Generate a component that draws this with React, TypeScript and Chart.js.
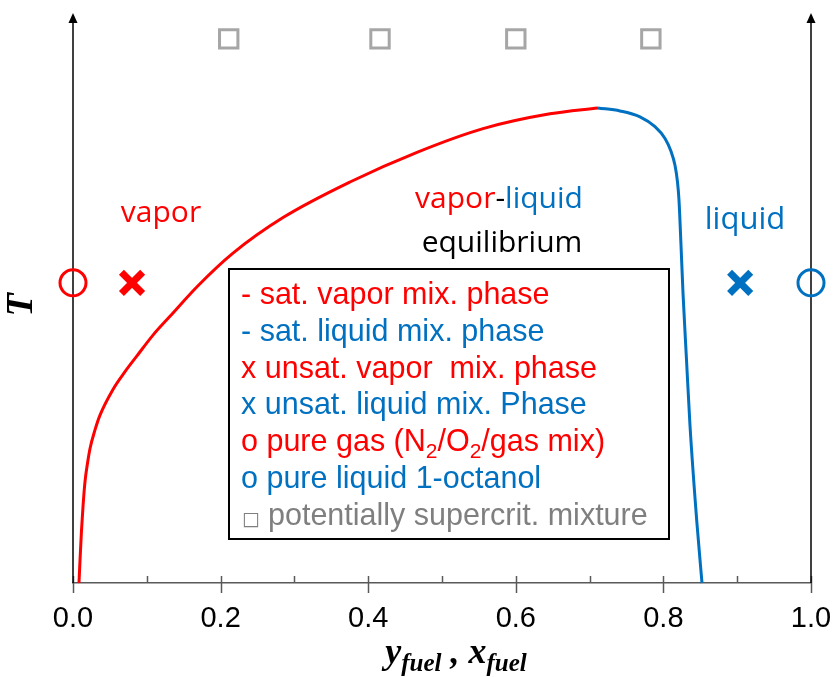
import { useEffect, useRef } from "react";
import { Chart, registerables } from "chart.js";

Chart.register(...registerables);

// ---- colours ----
const RED = "#ff0000";
const BLUE = "#0070c0";
const GRAY = "#a6a6a6";
const TEXT_GRAY = "#7f7f7f";

// ---- saturated vapour branch (y_fuel vs T, normalised) ----
const vaporX = [0.0081, 0.0095, 0.0115, 0.0136, 0.0163, 0.0196, 0.023, 0.0298, 0.0366, 0.0542, 0.0705, 0.0867, 0.1084, 0.1314, 0.1694, 0.2168, 0.2846, 0.3753, 0.4661, 0.5556, 0.6463, 0.7114];
const vaporT = [0, 0.0405, 0.0933, 0.1373, 0.1813, 0.213, 0.2394, 0.2729, 0.2993, 0.3451, 0.3768, 0.4049, 0.4419, 0.4754, 0.5299, 0.588, 0.6514, 0.7148, 0.7676, 0.8099, 0.8363, 0.8468];

// ---- saturated liquid branch (x_fuel vs T, normalised) ----
const liquidX = [0.7114, 0.7412, 0.7683, 0.7886, 0.8022, 0.8103, 0.8157, 0.8191, 0.8211, 0.8238, 0.8266, 0.8313, 0.836, 0.8455, 0.8523];
const liquidT = [0.8468, 0.8415, 0.831, 0.8134, 0.7923, 0.7694, 0.7447, 0.7148, 0.6831, 0.6039, 0.5158, 0.3979, 0.2817, 0.1056, 0];

// ---- single state points ----
const pureGas = { x: 0, y: 0.535 };
const unsatVapor = { x: 0.08, y: 0.535 };
const unsatLiquid = { x: 0.904, y: 0.535 };
const pureLiquid = { x: 1, y: 0.535 };

// ---- potentially supercritical mixtures ----
const superX = [0.211, 0.416, 0.6, 0.783];
const superT = [0.97, 0.97, 0.97, 0.97];

// ---- x axis ticks ----
const tickStep = 0.1;

// ---- legend box lines ("_" marks a one-character subscript) ----
const legendTexts = [
  "- sat. vapor mix. phase",
  "- sat. liquid mix. phase",
  "x unsat. vapor  mix. phase",
  "x unsat. liquid mix. Phase",
  "o pure gas (N_2/O_2/gas mix)",
  "o pure liquid 1-octanol",
  "□ potentially supercrit. mixture",
];
const legendColors = [RED, BLUE, RED, BLUE, RED, BLUE, TEXT_GRAY];

const SANS = '"Liberation Sans", Arial, sans-serif';
const LABEL_SANS = '"Open Sans", "Noto Sans", sans-serif';
const SERIF = '"Liberation Serif", "Times New Roman", serif';

// target plot frame on the page
const FRAME = { left: 73, top: 15, right: 811, bottom: 583 };

const pairs = (xs: number[], ys: number[]) => xs.map((x, i) => ({ x, y: ys[i] }));

function drawRich(ctx: CanvasRenderingContext2D, text: string, x: number, y: number, size: number) {
  const parts = text.split(/_(.)/);
  let cx = x;
  parts.forEach((p, i) => {
    const sub = i % 2 === 1;
    ctx.font = `${sub ? Math.round(size * 0.68) : size}px ${SANS}`;
    ctx.fillText(p, cx, sub ? y + size * 0.22 : y);
    cx += ctx.measureText(p).width;
  });
}

const decorations = {
  id: "phaseDecorations",
  beforeDatasetsDraw(chart: any) {
    const ctx: CanvasRenderingContext2D = chart.ctx;
    const xs = chart.scales.x;
    const { top, bottom } = chart.chartArea;
    ctx.save();
    // tick marks: major cross the axis, minor sit above it
    ctx.strokeStyle = "#595959";
    ctx.lineWidth = 1.5;
    xs.ticks.forEach((t: any) => {
      const v = t.value;
      const px = Math.round(xs.getPixelForValue(v)) + 0.5;
      const major = Math.round(v / tickStep) % 2 === 0;
      ctx.beginPath();
      ctx.moveTo(px, bottom - 7);
      ctx.lineTo(px, major ? bottom + 10 : bottom);
      ctx.stroke();
    });
    // vertical axes at both ends with arrow heads
    ctx.strokeStyle = "#000";
    ctx.fillStyle = "#000";
    ctx.lineWidth = 1.5;
    [0, 1].forEach((v) => {
      const px = xs.getPixelForValue(v);
      ctx.beginPath();
      ctx.moveTo(px, bottom);
      ctx.lineTo(px, top);
      ctx.stroke();
      ctx.beginPath();
      ctx.moveTo(px, top - 9);
      ctx.lineTo(px - 4.5, top + 1);
      ctx.lineTo(px + 4.5, top + 1);
      ctx.closePath();
      ctx.fill();
    });
    ctx.restore();
  },
  afterDraw(chart: any) {
    const ctx: CanvasRenderingContext2D = chart.ctx;
    ctx.save();

    // y axis title
    ctx.save();
    ctx.translate(22, 305);
    ctx.rotate(-Math.PI / 2);
    ctx.font = `bold italic 38px ${SERIF}`;
    ctx.fillStyle = "#000";
    ctx.textAlign = "center";
    ctx.textBaseline = "middle";
    ctx.fillText("T", 0, 0);
    ctx.restore();

    // x axis title: y_fuel , x_fuel
    const titleParts: [string, boolean][] = [["y", false], ["fuel", true], [" , ", false], ["x", false], ["fuel", true]];
    const mainF = `bold italic 36px ${SERIF}`;
    const subF = `bold italic 25px ${SERIF}`;
    let total = 0;
    titleParts.forEach(([t, s]) => {
      ctx.font = s ? subF : mainF;
      total += ctx.measureText(t).width;
    });
    let tx = 456 - total / 2;
    ctx.fillStyle = "#000";
    ctx.textBaseline = "alphabetic";
    ctx.textAlign = "left";
    titleParts.forEach(([t, s]) => {
      ctx.font = s ? subF : mainF;
      ctx.fillText(t, tx, s ? 671 : 663);
      tx += ctx.measureText(t).width;
    });

    // region labels
    ctx.font = `30px ${LABEL_SANS}`;
    ctx.textAlign = "center";
    ctx.fillStyle = RED;
    ctx.fillText("vapor", 161, 222);
    ctx.fillStyle = BLUE;
    ctx.font = `31px ${LABEL_SANS}`;
    ctx.fillText("liquid", 745, 229);
    ctx.font = `30px ${LABEL_SANS}`;
    ctx.fillStyle = "#000";
    ctx.fillText("equilibrium", 502, 252);
    const segs: [string, string][] = [["vapor", RED], ["-", "#000"], ["liquid", BLUE]];
    const segW = segs.reduce((s, [t]) => s + ctx.measureText(t).width, 0);
    let sx = 499 - segW / 2;
    ctx.textAlign = "left";
    segs.forEach(([t, c]) => {
      ctx.fillStyle = c;
      ctx.fillText(t, sx, 208);
      sx += ctx.measureText(t).width;
    });

    // legend box
    ctx.lineWidth = 2;
    ctx.strokeStyle = "#000";
    ctx.strokeRect(229, 269, 440, 270);
    legendTexts.forEach((line, i) => {
      const y = 304 + i * 36.8;
      ctx.fillStyle = legendColors[i];
      if (line.startsWith("□")) {
        ctx.font = `19px "DejaVu Sans", sans-serif`;
        ctx.fillText("□", 242, y);
        drawRich(ctx, line.slice(2), 268, y, 30.5);
      } else {
        drawRich(ctx, line, 241, y, 30.5);
      }
    });

    ctx.restore();
  },
};

export default function App() {
  const ref = useRef<HTMLCanvasElement>(null);

  useEffect(() => {
    if (!ref.current) return;
    const pointSet = (pt: { x: number; y: number }, color: string, style: string, r: number, bw: number) => ({
      type: "scatter" as const,
      data: [pt],
      pointStyle: style,
      pointRadius: r,
      pointBorderWidth: bw,
      pointBorderColor: color,
      pointBackgroundColor: "rgba(0,0,0,0)",
      borderColor: color,
      backgroundColor: "rgba(0,0,0,0)",
      showLine: false,
      clip: false as any,
    });
    const curve = (label: string, xs: number[], ys: number[], color: string) => ({
      type: "line" as const,
      label,
      data: pairs(xs, ys),
      borderColor: color,
      borderWidth: 3,
      pointRadius: 0,
      cubicInterpolationMode: "monotone" as const,
      fill: false,
      clip: false as any,
    });

    const pad = { left: FRAME.left, right: 833 - FRAME.right, top: FRAME.top, bottom: 0 };

    const chart = new Chart(ref.current, {
      type: "scatter",
      data: {
        datasets: [
          curve("sat. vapor", vaporX, vaporT, RED),
          curve("sat. liquid", liquidX, liquidT, BLUE),
          pointSet(pureGas, RED, "circle", 13, 3),
          pointSet(unsatVapor, RED, "crossRot", 15, 7),
          pointSet(unsatLiquid, BLUE, "crossRot", 15, 7),
          pointSet(pureLiquid, BLUE, "circle", 13, 3),
          {
            type: "scatter",
            label: "supercritical",
            data: pairs(superX, superT),
            pointStyle: "rect",
            pointRadius: 13,
            pointBorderWidth: 3,
            pointBorderColor: GRAY,
            pointBackgroundColor: "rgba(0,0,0,0)",
            showLine: false,
            clip: false as any,
          },
        ] as any,
      },
      options: {
        animation: false,
        responsive: false,
        devicePixelRatio: 1,
        layout: { padding: { ...pad } },
        plugins: { legend: { display: false }, tooltip: { enabled: false } },
        scales: {
          x: {
            type: "linear",
            min: 0,
            max: 1,
            position: "bottom",
            grid: { display: false, drawTicks: true, tickLength: 19 },
            border: { display: true, color: "#595959", width: 1.5 },
            ticks: {
              stepSize: tickStep,
              autoSkip: false,
              maxRotation: 0,
              padding: 0,
              color: "#000",
              font: { family: SANS, size: 29 },
              callback: (v: any) => (Math.round(Number(v) / tickStep) % 2 === 0 ? Number(v).toFixed(1) : ""),
            },
            afterFit: (s: any) => {
              s.height = 94;
            },
          },
          y: { type: "linear", min: 0, max: 1, display: false },
        },
      },
      plugins: [decorations],
    });

    // nudge the layout padding so the plot frame lands exactly on FRAME
    const ca = chart.chartArea;
    const next = {
      left: pad.left + (FRAME.left - ca.left),
      top: pad.top + (FRAME.top - ca.top),
      right: pad.right + (ca.right - FRAME.right),
      bottom: pad.bottom + (ca.bottom - FRAME.bottom),
    };
    if (next.left !== pad.left || next.top !== pad.top || next.right !== pad.right || next.bottom !== pad.bottom) {
      (chart.options as any).layout.padding = next;
      chart.update();
    }

    return () => chart.destroy();
  }, []);

  return (
    <div style={{ position: "absolute", left: 0, top: 0, width: 833, height: 677, background: "#fff" }}>
      <canvas ref={ref} width={833} height={677} style={{ display: "block" }} />
    </div>
  );
}
